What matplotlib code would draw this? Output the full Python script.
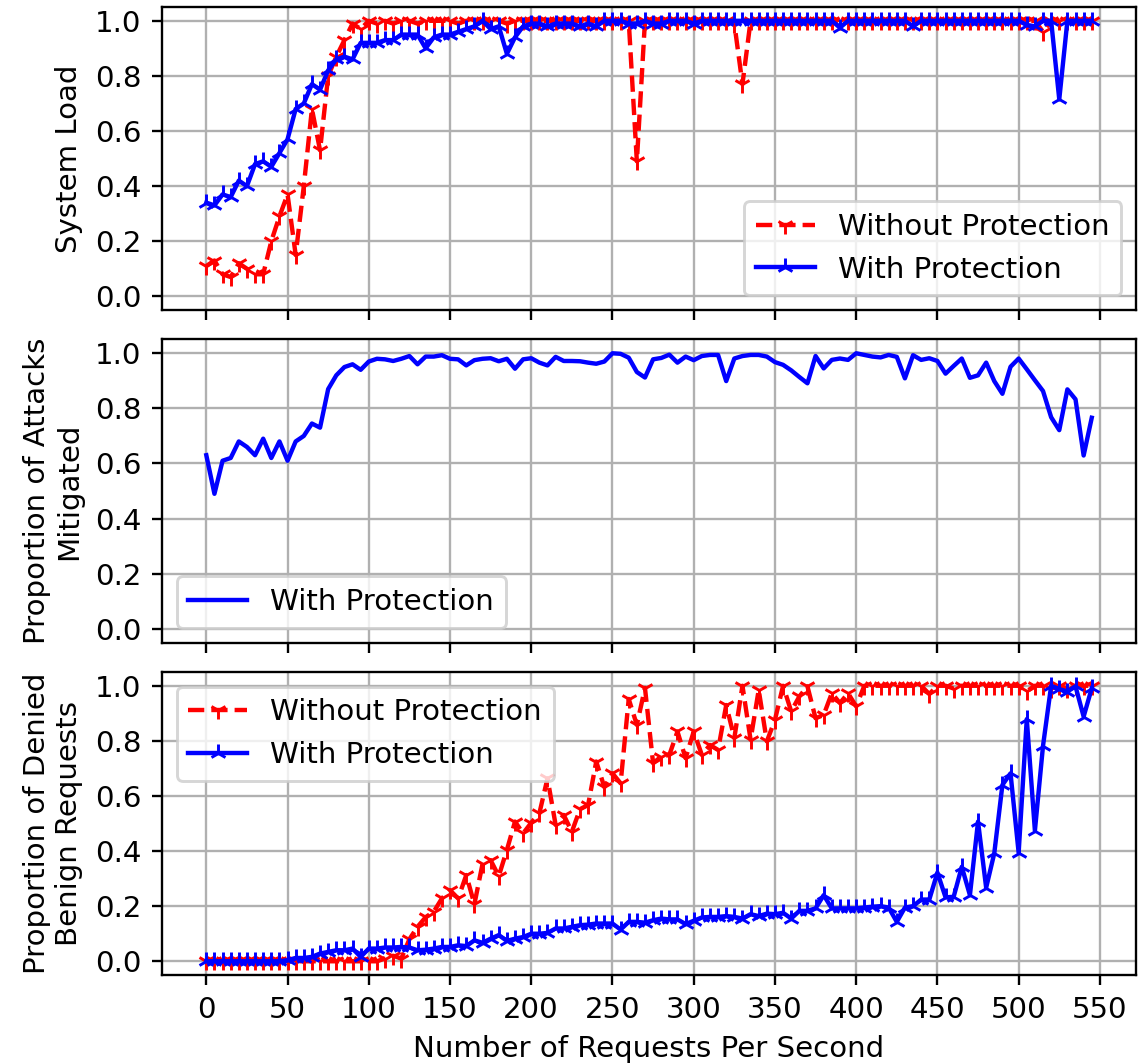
import numpy as np
import matplotlib
matplotlib.use("Agg")
import matplotlib.pyplot as plt

# requests per second (x axis)
rps = np.arange(0, 550, 5)

# system load
load_without = [0.11, 0.13, 0.08, 0.07, 0.12, 0.10, 0.08, 0.08, 0.20, 0.29,
                0.37, 0.15, 0.40, 0.68, 0.53, 0.80, 0.87, 0.93, 0.99, 0.97,
                1.00, 0.99, 1.00, 0.99, 1.00, 1.00, 0.99, 1.00, 1.00, 1.00,
                1.00, 0.99, 1.00, 1.00, 1.00, 1.00, 1.00, 0.99, 1.00, 1.00,
                1.00, 1.00, 1.00, 1.00, 1.00, 1.00, 1.00, 1.00, 1.00, 1.00,
                1.00, 1.00, 1.00, 0.49, 1.00, 1.00, 1.00, 1.00, 1.00, 1.00,
                1.00, 1.00, 1.00, 1.00, 1.00, 0.99, 0.77, 1.00, 1.00, 1.00,
                1.00, 1.00, 1.00, 1.00, 1.00, 1.00, 1.00, 1.00, 1.00, 1.00,
                1.00, 1.00, 1.00, 1.00, 1.00, 1.00, 1.00, 1.00, 1.00, 1.00,
                1.00, 1.00, 1.00, 1.00, 1.00, 1.00, 1.00, 1.00, 1.00, 1.00,
                1.00, 1.00, 1.00, 0.96, 1.00, 1.00, 1.00, 1.00, 1.00, 1.00]
load_with = [0.34, 0.33, 0.37, 0.36, 0.42, 0.40, 0.48, 0.49, 0.47, 0.52,
             0.57, 0.68, 0.70, 0.77, 0.75, 0.82, 0.86, 0.87, 0.86, 0.92,
             0.92, 0.92, 0.93, 0.93, 0.95, 0.95, 0.95, 0.90, 0.94, 0.95,
             0.95, 0.96, 0.97, 0.98, 1.00, 0.97, 0.98, 0.88, 0.94, 0.98,
             0.99, 0.99, 0.98, 0.99, 0.99, 0.99, 0.98, 0.99, 0.98, 1.00,
             1.00, 1.00, 0.99, 0.99, 1.00, 0.99, 0.99, 1.00, 1.00, 1.00,
             0.99, 1.00, 1.00, 1.00, 1.00, 1.00, 1.00, 1.00, 1.00, 1.00,
             1.00, 1.00, 1.00, 1.00, 1.00, 1.00, 1.00, 1.00, 0.975, 1.00,
             1.00, 1.00, 1.00, 1.00, 1.00, 1.00, 1.00, 0.98, 1.00, 1.00,
             1.00, 1.00, 1.00, 1.00, 1.00, 1.00, 1.00, 1.00, 1.00, 1.00,
             1.00, 0.985, 0.98, 1.00, 1.00, 0.715, 1.00, 1.00, 1.00, 1.00]

# proportion of attacks mitigated
mitigated_with = [0.63, 0.49, 0.61, 0.62, 0.68, 0.66, 0.63, 0.69, 0.62, 0.68,
                  0.61, 0.68, 0.70, 0.745, 0.73, 0.87, 0.92, 0.95, 0.96, 0.94,
                  0.97, 0.98, 0.978, 0.972, 0.98, 0.99, 0.96, 0.988, 0.988, 0.993,
                  0.98, 0.978, 0.956, 0.975, 0.98, 0.982, 0.971, 0.98, 0.944, 0.978,
                  0.982, 0.966, 0.956, 0.987, 0.972, 0.972, 0.971, 0.966, 0.962, 0.97,
                  1.00, 0.998, 0.984, 0.932, 0.912, 0.978, 0.983, 0.995, 0.966, 0.988,
                  0.975, 0.99, 0.994, 0.994, 0.899, 0.981, 0.99, 0.994, 0.994, 0.988,
                  0.968, 0.958, 0.938, 0.914, 0.891, 0.99, 0.945, 0.976, 0.981, 0.976,
                  1.00, 0.994, 0.988, 0.985, 0.994, 0.987, 0.909, 0.993, 0.976, 0.982,
                  0.972, 0.926, 0.954, 0.981, 0.911, 0.92, 0.966, 0.899, 0.853, 0.951,
                  0.981, 0.942, 0.902, 0.863, 0.768, 0.721, 0.869, 0.833, 0.629, 0.766]

# proportion of denied benign requests
denied_without = [0.0, 0.0, 0.0, 0.0, 0.0, 0.0, 0.0, 0.0, 0.0, 0.0,
                  0.0, 0.0, 0.0, 0.0, 0.0, 0.0, 0.0, 0.0, 0.0, 0.0,
                  0.0, 0.0, 0.01, 0.02, 0.01, 0.08, 0.125, 0.16, 0.18, 0.228,
                  0.258, 0.228, 0.313, 0.207, 0.353, 0.367, 0.309, 0.404, 0.507, 0.464,
                  0.503, 0.537, 0.664, 0.495, 0.531, 0.47, 0.552, 0.567, 0.725, 0.632,
                  0.682, 0.646, 0.952, 0.858, 0.992, 0.719, 0.743, 0.749, 0.834, 0.737,
                  0.834, 0.749, 0.785, 0.767, 0.93, 0.81, 1.00, 0.804, 0.985, 0.798,
                  0.876, 1.00, 0.907, 0.961, 0.998, 0.882, 0.894, 0.973, 0.937, 0.973,
                  0.925, 1.00, 1.00, 1.00, 1.00, 1.00, 1.00, 1.00, 1.00, 0.97,
                  1.00, 1.00, 0.99, 1.00, 1.00, 1.00, 1.00, 1.00, 1.00, 1.00,
                  1.00, 0.98, 1.00, 1.00, 0.99, 1.00, 0.99, 1.00, 1.00, 1.00]
denied_with = [0.0, 0.0, 0.0, 0.0, 0.0, 0.0, 0.0, 0.0, 0.0, 0.0,
               0.004, 0.012, 0.012, 0.016, 0.028, 0.034, 0.04, 0.04, 0.046, 0.016,
               0.046, 0.046, 0.05, 0.05, 0.052, 0.05, 0.04, 0.042, 0.046, 0.052,
               0.052, 0.058, 0.055, 0.076, 0.067, 0.082, 0.095, 0.074, 0.082, 0.088,
               0.10, 0.10, 0.103, 0.119, 0.119, 0.125, 0.131, 0.133, 0.137, 0.137,
               0.137, 0.115, 0.143, 0.143, 0.140, 0.149, 0.155, 0.152, 0.152, 0.135,
               0.147, 0.159, 0.161, 0.161, 0.164, 0.161, 0.155, 0.171, 0.164, 0.173,
               0.171, 0.176, 0.155, 0.183, 0.183, 0.192, 0.24, 0.192, 0.192, 0.192,
               0.192, 0.195, 0.198, 0.20, 0.195, 0.143, 0.195, 0.20, 0.224, 0.224,
               0.322, 0.232, 0.234, 0.343, 0.24, 0.507, 0.267, 0.392, 0.64, 0.682,
               0.394, 0.879, 0.474, 0.782, 1.00, 0.988, 0.979, 0.998, 0.888, 0.991]

dpi = 211
fig, axes = plt.subplots(3, 1, sharex=True, figsize=(1146 / dpi, 1064 / dpi), dpi=dpi)
plt.subplots_adjust(left=0.1414, right=0.9913, top=0.9934, bottom=0.0836, hspace=0.097)

ax = axes[0]
ax.plot(rps, load_without, 'r--', marker='1', label='Without Protection')
ax.plot(rps, load_with, 'b-', marker='2', label='With Protection')
ax.set_ylabel('System Load')
ax.legend(loc='lower right')

ax = axes[1]
ax.plot(rps, mitigated_with, 'b-', label='With Protection')
ax.set_ylabel('Proportion of Attacks\nMitigated')
ax.legend(loc='lower left')

ax = axes[2]
ax.plot(rps, denied_without, 'r--', marker='1', label='Without Protection')
ax.plot(rps, denied_with, 'b-', marker='2', label='With Protection')
ax.set_ylabel('Proportion of Denied\nBenign Requests')
ax.set_xlabel('Number of Requests Per Second')
ax.set_xticks(np.arange(0, 551, 50))
ax.legend(loc='upper left')

for ax in axes:
    ax.set_ylim(-0.05, 1.05)
    ax.set_yticks(np.arange(0, 1.01, 0.2))
    ax.grid(True)

plt.savefig('out.png', dpi=dpi)
